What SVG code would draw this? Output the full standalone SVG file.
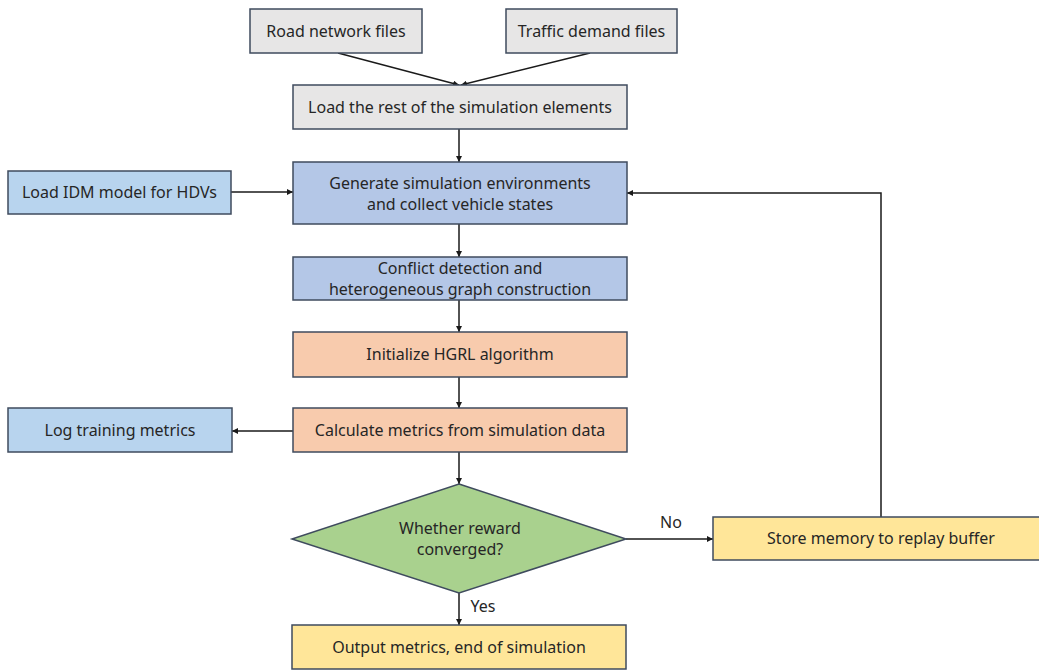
<svg xmlns="http://www.w3.org/2000/svg" width="1039" height="671" viewBox="0 0 1039 671">
<style>
.b{stroke:#3f4b5e;stroke-width:1.5}
.g{fill:#e7e6e6}.p{fill:#b4c7e7}.l{fill:#b8d4ee}.s{fill:#f8cbad}.d{fill:#a9d18e}.y{fill:#ffe699}
text{font-family:"Noto Sans","Open Sans","DejaVu Sans",sans-serif;font-size:16px;fill:#262626;text-anchor:middle}
.c{fill:none;stroke:#1a1a1a;stroke-width:1.5}
</style>
<defs>
<marker id="a" viewBox="0 0 10 10" refX="10" refY="5" markerWidth="6" markerHeight="6" markerUnits="userSpaceOnUse" orient="auto">
<path d="M0,0L10,5L0,10z" fill="#1a1a1a"/>
</marker>
</defs>
<rect width="1039" height="671" fill="#fff"/>
<g id="connectors">
<path class="c" d="M338,53L459,85" marker-end="url(#a)"/>
<path class="c" d="M590,53L461,85" marker-end="url(#a)"/>
<path class="c" d="M459,129V162" marker-end="url(#a)"/>
<path class="c" d="M231,192H293" marker-end="url(#a)"/>
<path class="c" d="M459,224V257" marker-end="url(#a)"/>
<path class="c" d="M459,300V332" marker-end="url(#a)"/>
<path class="c" d="M459,377V408" marker-end="url(#a)"/>
<path class="c" d="M293,431H232" marker-end="url(#a)"/>
<path class="c" d="M459,452V484" marker-end="url(#a)"/>
<path class="c" d="M626,539H713" marker-end="url(#a)"/>
<path class="c" d="M459,593V625" marker-end="url(#a)"/>
<path class="c" d="M881,517V193H627" marker-end="url(#a)"/>
<text x="671" y="528">No</text>
<text x="483" y="612">Yes</text>
</g>
<g id="road"><rect class="b g" x="250" y="9" width="172" height="44"/><text x="336" y="37">Road network files</text></g>
<g id="traffic"><rect class="b g" x="506" y="9" width="171" height="44"/><text x="591.5" y="37">Traffic demand files</text></g>
<g id="load"><rect class="b g" x="293" y="85" width="334" height="44"/><text x="460" y="113">Load the rest of the simulation elements</text></g>
<g id="idm"><rect class="b l" x="8" y="171" width="223" height="43"/><text x="119.5" y="198">Load IDM model for HDVs</text></g>
<g id="generate"><rect class="b p" x="293" y="162" width="334" height="62"/><text x="460" y="189">Generate simulation environments</text><text x="460" y="210">and collect vehicle states</text></g>
<g id="conflict"><rect class="b p" x="293" y="257" width="334" height="43"/><text x="460" y="274">Conflict detection and</text><text x="460" y="295">heterogeneous graph construction</text></g>
<g id="init"><rect class="b s" x="293" y="332" width="334" height="45"/><text x="460" y="360">Initialize HGRL algorithm</text></g>
<g id="calc"><rect class="b s" x="293" y="408" width="334" height="44"/><text x="460" y="436">Calculate metrics from simulation data</text></g>
<g id="log"><rect class="b l" x="8" y="408" width="224" height="44"/><text x="120" y="436">Log training metrics</text></g>
<g id="decision"><path class="b d" d="M459,484L626,539L459,593L292,539z"/><text x="460" y="534">Whether reward</text><text x="460" y="555">converged?</text></g>
<g id="store"><rect class="b y" x="713" y="517" width="330" height="43"/><text x="881" y="544">Store memory to replay buffer</text></g>
<g id="output"><rect class="b y" x="292" y="625" width="334" height="44"/><text x="459" y="653">Output metrics, end of simulation</text></g>
</svg>
